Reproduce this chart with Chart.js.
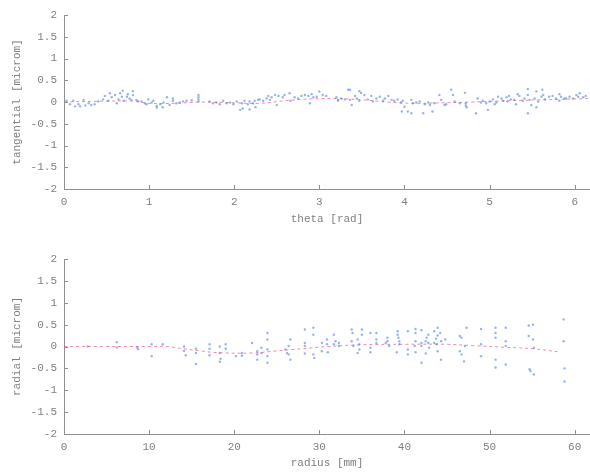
<!DOCTYPE html>
<html>
<head>
<meta charset="utf-8">
<script src="https://cdn.jsdelivr.net/npm/chart.js@4.4.1/dist/chart.umd.min.js"></script>
<style>
  html, body { margin: 0; padding: 0; background: #fff; }
  .panel { position: absolute; left: 0; width: 590px; height: 236px; }
  #topPanel { top: 0; }
  #bottomPanel { top: 236px; }
</style>
</head>
<body>
<div class="panel" id="topPanel"><canvas id="tangChart"></canvas></div>
<div class="panel" id="bottomPanel"><canvas id="radChart"></canvas></div>
<script>
// --- data ---
// top panel: tangential error vs theta
const thetaPts = [
  0.03, 0.07, 0.11, 0.13, 0.17, 0.19, 0.23, 0.25, 0.29, 0.32, 0.36, 0.40, 0.46, 0.48, 0.52, 0.54,
  0.56, 0.60, 0.62, 0.64, 0.66, 0.68, 0.69, 0.70, 0.74, 0.75, 0.77, 0.79, 0.81, 0.81, 0.85, 0.87,
  0.91, 0.95, 0.97, 0.99, 1.03, 1.05, 1.09, 1.09, 1.13, 1.16, 1.17, 1.21, 1.24, 1.28, 1.28, 1.32,
  1.36, 1.40, 1.44, 1.50, 1.58, 1.58, 1.58, 1.58, 1.71, 1.75, 1.79, 1.83, 1.87, 1.91, 1.95, 1.99,
  2.03, 2.07, 2.09, 2.10, 2.12, 2.16, 2.18, 2.18, 2.22, 2.24, 2.25, 2.28, 2.30, 2.34, 2.38, 2.40,
  2.42, 2.44, 2.48, 2.50, 2.52, 2.57, 2.59, 2.65, 2.66, 2.71, 2.75, 2.79, 2.83, 2.87, 2.89, 2.91,
  2.93, 2.97, 3.00, 3.04, 3.08, 3.20, 3.22, 3.22, 3.26, 3.30, 3.34, 3.36, 3.36, 3.38, 3.42, 3.44,
  3.47, 3.47, 3.49, 3.53, 3.57, 3.61, 3.63, 3.67, 3.71, 3.75, 3.77, 3.81, 3.85, 3.88, 3.92, 3.96,
  3.97, 3.98, 4.00, 4.04, 4.08, 4.08, 4.10, 4.14, 4.18, 4.22, 4.24, 4.28, 4.30, 4.33, 4.35, 4.41,
  4.43, 4.47, 4.49, 4.55, 4.57, 4.59, 4.65, 4.71, 4.72, 4.72, 4.73, 4.84, 4.86, 4.90, 4.92, 4.96,
  4.98, 5.00, 5.04, 5.06, 5.08, 5.10, 5.14, 5.16, 5.20, 5.21, 5.23, 5.25, 5.29, 5.31, 5.33, 5.35,
  5.39, 5.41, 5.45, 5.45, 5.45, 5.47, 5.49, 5.53, 5.55, 5.55, 5.57, 5.61, 5.62, 5.63, 5.65, 5.70,
  5.74, 5.78, 5.82, 5.82, 5.84, 5.88, 5.90, 5.94, 5.98, 6.02, 6.04, 6.06, 6.10, 6.13
];
const tangPts = [
  0.03, -0.05, 0.03, -0.10, -0.05, -0.10, 0.05, -0.08, -0.03, -0.07, -0.05, 0.01, 0.06, 0.14, 0.03, 0.20,
  0.11, 0.16, -0.03, 0.06, 0.20, 0.12, 0.26, 0.03, 0.12, 0.18, 0.08, 0.05, 0.16, 0.25, 0.05, 0.02,
  0.01, -0.03, -0.05, 0.06, -0.01, 0.03, -0.09, -0.13, -0.05, -0.12, -0.01, 0.11, -0.07, 0.03, 0.08, -0.03,
  -0.01, 0.01, 0.03, 0.04, 0.16, 0.11, 0.06, 0.01, 0.01, -0.03, -0.01, -0.05, 0.03, -0.03, -0.01, -0.05,
  0.01, -0.18, -0.03, -0.15, 0.03, -0.05, 0.01, -0.17, -0.03, 0.03, -0.12, 0.05, 0.06, 0.03, 0.08, 0.14,
  0.05, 0.11, 0.16, -0.07, 0.14, 0.11, 0.16, 0.20, 0.03, 0.11, 0.08, 0.14, 0.16, 0.14, -0.03, 0.18,
  0.11, 0.12, 0.24, 0.16, 0.14, 0.11, 0.03, 0.05, 0.08, 0.06, 0.28, 0.05, 0.28, -0.07, 0.14, 0.08,
  0.03, 0.25, 0.21, 0.16, 0.06, 0.14, 0.01, 0.08, 0.12, 0.03, 0.08, 0.14, 0.05, 0.03, 0.06, -0.01,
  -0.22, 0.03, -0.11, -0.22, 0.05, -0.26, -0.03, -0.01, 0.01, -0.26, -0.05, -0.01, -0.07, -0.22, -0.03, 0.16,
  0.05, -0.07, -0.05, 0.28, 0.16, 0.01, -0.03, 0.21, -0.03, -0.08, -0.12, -0.26, 0.08, -0.01, 0.03, -0.03,
  -0.18, 0.01, 0.06, -0.05, -0.01, 0.12, 0.08, 0.03, 0.11, 0.01, 0.14, 0.06, 0.05, -0.05, 0.18, 0.14,
  0.03, 0.08, 0.30, 0.16, -0.26, 0.05, -0.07, 0.08, 0.24, -0.12, 0.01, 0.12, 0.28, 0.16, 0.06, 0.12,
  0.14, 0.08, 0.18, 0.03, 0.12, 0.08, 0.08, 0.12, 0.08, 0.16, 0.12, 0.20, 0.11, 0.14
];
const thetaFit = [0, 0.5, 0.8, 1.0, 1.3, 1.6, 2.0, 2.3, 2.6, 2.9, 3.2, 3.5, 3.8, 4.1, 4.4, 4.8, 5.1, 5.4, 5.8, 6.18];
const tangFit  = [0, 0.02, 0.02, -0.03, -0.03, 0, -0.02, -0.03, 0.03, 0.07, 0.08, 0.05, 0.0, -0.03, -0.02, 0.0, 0.02, 0.04, 0.06, 0.08];

// bottom panel: radial error vs radius
const radiusPts = [
  2.8, 6.2, 6.2, 8.6, 8.7, 10.3, 10.3, 11.6, 14.1, 14.1, 14.3, 15.5, 15.5, 15.5, 17.1, 17.1,
  17.1, 18.3, 18.3, 18.3, 18.4, 19.0, 19.0, 20.2, 20.9, 20.9, 22.1, 22.7, 22.7, 22.7, 23.2, 23.2,
  23.9, 23.9, 23.9, 23.9, 23.9, 26.0, 26.2, 26.4, 26.4, 26.6, 26.6, 28.3, 28.3, 28.3, 28.3, 29.3,
  29.3, 29.3, 29.4, 30.3, 30.3, 30.9, 30.9, 31.0, 31.7, 31.7, 31.9, 32.3, 32.3, 33.8, 33.9, 33.8,
  34.0, 34.5, 34.7, 34.7, 34.5, 35.0, 35.0, 36.0, 36.0, 36.0, 36.7, 36.7, 36.7, 38.0, 38.0, 38.2,
  37.8, 39.2, 39.2, 39.3, 39.4, 39.4, 39.1, 40.4, 40.4, 40.4, 41.3, 41.3, 41.3, 41.2, 41.3, 42.0,
  42.0, 42.0, 42.0, 42.5, 42.6, 42.5, 42.8, 42.8, 42.9, 43.5, 43.5, 43.7, 43.8, 43.9, 43.9, 43.9,
  44.3, 44.3, 44.2, 44.8, 46.5, 46.7, 46.5, 46.7, 47.0, 47.1, 47.3, 49.0, 49.0, 49.0, 50.7, 50.7,
  50.7, 50.7, 50.7, 51.9, 51.9, 51.9, 51.9, 54.6, 54.6, 54.7, 54.8, 55.1, 55.1, 55.2, 55.2, 58.7,
  58.7, 58.8, 58.8
];
const radialPts = [
  0.00, 0.10, -0.02, -0.02, -0.06, 0.05, -0.22, 0.05, 0.00, -0.10, -0.20, -0.05, -0.15, -0.40, 0.05, -0.05,
  -0.20, 0.00, -0.15, -0.35, -0.28, 0.05, -0.05, -0.22, -0.15, -0.21, 0.08, -0.11, -0.18, -0.30, -0.03, -0.15,
  0.31, 0.16, -0.07, -0.22, -0.37, -0.07, -0.15, 0.01, -0.18, 0.16, -0.30, 0.39, 0.08, 0.01, -0.16, 0.43,
  0.27, -0.18, -0.26, 0.08, -0.11, 0.16, 0.05, -0.13, 0.27, 0.05, 0.12, 0.08, 0.01, 0.39, 0.31, 0.12,
  0.01, 0.16, 0.05, -0.07, -0.15, 0.39, 0.27, 0.31, -0.03, -0.13, 0.31, 0.16, 0.08, 0.20, 0.12, 0.01,
  0.08, 0.35, 0.27, 0.20, 0.12, 0.05, -0.13, 0.35, -0.07, -0.18, 0.40, 0.31, 0.12, 0.01, -0.13, 0.37,
  0.08, 0.01, -0.37, 0.12, 0.20, -0.16, 0.27, 0.08, -0.03, 0.08, 0.35, 0.18, 0.05, 0.43, 0.25, -0.11,
  -0.30, 0.12, 0.31, 0.16, 0.24, 0.20, -0.11, -0.18, -0.34, 0.01, 0.43, 0.40, 0.05, -0.22, 0.43, 0.31,
  0.20, -0.30, -0.48, 0.43, 0.12, 0.01, -0.41, 0.48, 0.24, -0.52, -0.56, 0.50, 0.16, -0.03, -0.64, 0.62,
  0.12, -0.50, -0.80
];
const radiusFit = [0, 5, 10, 12, 14, 16, 18, 22, 25, 28, 31, 35, 40, 45, 48, 52, 55, 58];
const radialFit = [0, 0, 0, 0, -0.05, -0.10, -0.14, -0.15, -0.10, -0.05, 0.0, 0.04, 0.05, 0.05, 0.02, -0.02, -0.05, -0.12];

const yTicks = [-2, -1.5, -1, -0.5, 0, 0.5, 1, 1.5, 2];

const AXIS_COLOR = '#8f8f8f';
const TEXT_COLOR = '#808080';
const MONO = '"Liberation Mono", "DejaVu Sans Mono", monospace';

// small inward tick marks, like the original plot
const innerTicks = {
  id: 'innerTicks',
  afterDraw(chart) {
    const { ctx, chartArea, scales } = chart;
    ctx.save();
    ctx.strokeStyle = AXIS_COLOR;
    ctx.lineWidth = 1;
    ctx.beginPath();
    scales.x.ticks.forEach(t => {
      const px = Math.round(scales.x.getPixelForValue(t.value)) + 0.5;
      ctx.moveTo(px, chartArea.bottom);
      ctx.lineTo(px, chartArea.bottom - 4);
    });
    scales.y.ticks.forEach(t => {
      const py = Math.round(scales.y.getPixelForValue(t.value)) + 0.5;
      ctx.moveTo(chartArea.left, py);
      ctx.lineTo(chartArea.left + 4, py);
    });
    ctx.stroke();
    ctx.restore();
  }
};

function zip(xs, ys) {
  return xs.map((x, i) => ({ x: x, y: ys[i] }));
}

function makePlot(canvasId, cfg) {
  const ctx = document.getElementById(canvasId);
  return new Chart(ctx, {
    type: 'scatter',
    data: {
      datasets: [{
        label: 'fit',
        data: zip(cfg.fitX, cfg.fitY),
        showLine: true,
        borderColor: 'rgba(232, 90, 125, 0.7)',
        borderWidth: 1,
        borderDash: [3, 3],
        pointRadius: 0,
        tension: 0.4,
        order: 2
      }, {
        label: 'measured',
        data: zip(cfg.ptsX, cfg.ptsY),
        backgroundColor: 'rgba(80, 130, 225, 0.6)',
        borderWidth: 0,
        pointRadius: 1.2,
        order: 1
      }]
    },
    options: {
      responsive: true,
      maintainAspectRatio: false,
      animation: false,
      layout: { autoPadding: false, padding: { top: cfg.padTop, right: 0, left: 0, bottom: 0 } },
      plugins: { legend: { display: false }, tooltip: { enabled: false } },
      scales: {
        x: {
          type: 'linear',
          min: 0,
          max: cfg.xMax,
          afterFit: s => { s.height = cfg.xHeight; },
          border: { color: AXIS_COLOR, width: 1 },
          grid: { display: false, drawTicks: false },
          ticks: {
            stepSize: cfg.xStep,
            includeBounds: false,
            padding: 6,
            color: TEXT_COLOR,
            font: { family: MONO, size: 11 }
          },
          title: {
            display: true,
            text: cfg.xTitle,
            color: TEXT_COLOR,
            font: { family: MONO, size: 11 },
            padding: { top: 0, bottom: cfg.xTitlePad }
          }
        },
        y: {
          min: -2,
          max: 2,
          afterFit: s => { s.width = 64; },
          afterBuildTicks: s => { s.ticks = yTicks.map(v => ({ value: v })); },
          border: { color: AXIS_COLOR, width: 1 },
          grid: { display: false, drawTicks: false },
          ticks: {
            padding: 7,
            color: TEXT_COLOR,
            font: { family: MONO, size: 11 },
            callback: v => String(v)
          },
          title: {
            display: true,
            text: cfg.yTitle,
            color: TEXT_COLOR,
            font: { family: MONO, size: 11 },
            padding: { top: 10, bottom: 0 }
          }
        }
      }
    },
    plugins: [innerTicks]
  });
}

makePlot('tangChart', {
  ptsX: thetaPts, ptsY: tangPts, fitX: thetaFit, fitY: tangFit,
  xMax: 6.18, xStep: 1, padTop: 15, xHeight: 47, xTitlePad: 10,
  xTitle: 'theta [rad]', yTitle: 'tangential [microm]'
});

makePlot('radChart', {
  ptsX: radiusPts, ptsY: radialPts, fitX: radiusFit, fitY: radialFit,
  xMax: 61.8, xStep: 10, padTop: 23, xHeight: 38, xTitlePad: 2,
  xTitle: 'radius [mm]', yTitle: 'radial [microm]'
});
</script>
</body>
</html>
